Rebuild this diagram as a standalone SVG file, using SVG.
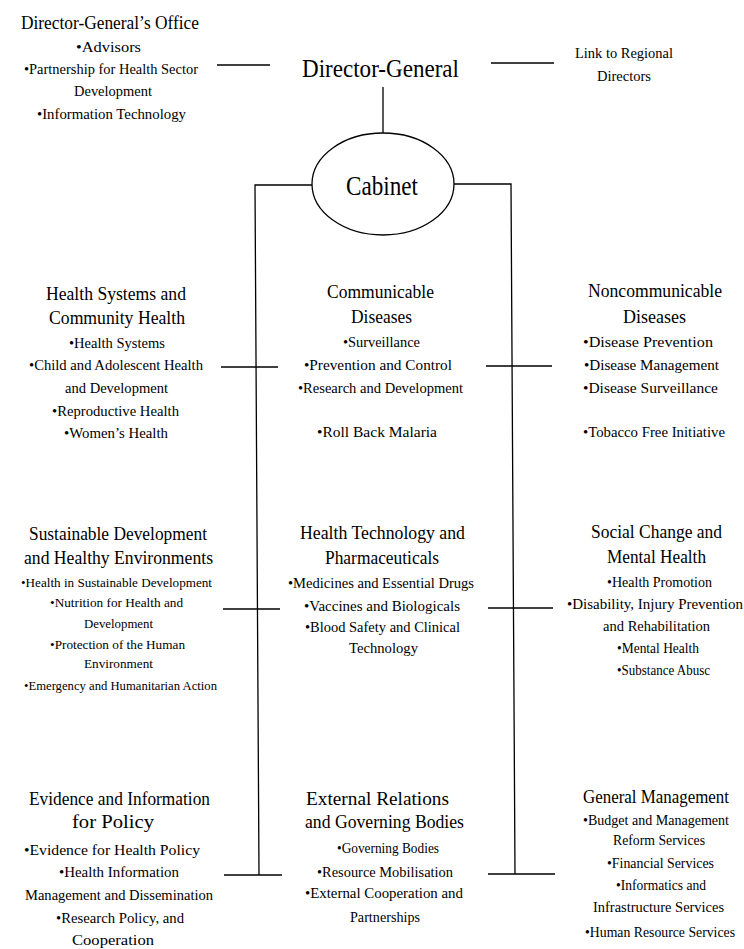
<svg xmlns="http://www.w3.org/2000/svg" width="744" height="949" viewBox="0 0 744 949">
<style>
text{font-family:"Liberation Serif","Times New Roman",serif;fill:#000;text-anchor:middle}
.h{font-size:18px}
.b{font-size:15px}
.n{font-size:14px}
.s{font-size:13px}
.big{font-size:25px}
.cab{font-size:27px}
.ln{stroke:#000;stroke-width:1.3;fill:none}
</style>
<rect width="744" height="949" fill="#fff"/>
<g id="connectors" class="ln">
<line x1="217" y1="65" x2="270" y2="65"/>
<line x1="491" y1="63" x2="554" y2="63"/>
<line x1="383" y1="87" x2="383" y2="133"/>
<path d="M312,185 H255 L259,875"/>
<path d="M454,184 H511 L515,874"/>
<line x1="221" y1="367" x2="278" y2="367"/>
<line x1="486" y1="366" x2="552" y2="366"/>
<line x1="223" y1="609" x2="280" y2="609"/>
<line x1="488" y1="608" x2="553" y2="608"/>
<line x1="224" y1="875" x2="282" y2="875"/>
<line x1="488" y1="874" x2="555" y2="874"/>
</g>
<g id="dg-office">
<text class="h" x="110" y="29" textLength="178" lengthAdjust="spacingAndGlyphs">Director-General’s Office</text>
<text class="b" x="108.5" y="52" textLength="65" lengthAdjust="spacingAndGlyphs">•Advisors</text>
<text class="b" x="111" y="74" textLength="174" lengthAdjust="spacingAndGlyphs">•Partnership for Health Sector</text>
<text class="b" x="113" y="96" textLength="78" lengthAdjust="spacingAndGlyphs">Development</text>
<text class="b" x="111.5" y="119" textLength="149" lengthAdjust="spacingAndGlyphs">•Information Technology</text>
</g>
<g id="director-general">
<text class="big" x="380.5" y="77" textLength="157" lengthAdjust="spacingAndGlyphs">Director-General</text>
</g>
<g id="regional-link">
<text class="b" x="624" y="58" textLength="98" lengthAdjust="spacingAndGlyphs">Link to Regional</text>
<text class="b" x="624" y="81" textLength="54" lengthAdjust="spacingAndGlyphs">Directors</text>
</g>
<g id="cabinet">
<ellipse class="ln" cx="383" cy="184" rx="71" ry="51"/>
<text class="cab" x="382" y="195" textLength="72" lengthAdjust="spacingAndGlyphs">Cabinet</text>
</g>
<g id="health-systems">
<text class="h" x="116" y="300" textLength="140" lengthAdjust="spacingAndGlyphs">Health Systems and</text>
<text class="h" x="117" y="324" textLength="136" lengthAdjust="spacingAndGlyphs">Community Health</text>
<text class="b" x="117" y="348" textLength="96" lengthAdjust="spacingAndGlyphs">•Health Systems</text>
<text class="b" x="116" y="370" textLength="174" lengthAdjust="spacingAndGlyphs">•Child and Adolescent Health</text>
<text class="b" x="116.5" y="393" textLength="103" lengthAdjust="spacingAndGlyphs">and Development</text>
<text class="b" x="115.5" y="416" textLength="127" lengthAdjust="spacingAndGlyphs">•Reproductive Health</text>
<text class="b" x="116" y="438" textLength="104" lengthAdjust="spacingAndGlyphs">•Women’s Health</text>
</g>
<g id="communicable">
<text class="h" x="380.5" y="298" textLength="107" lengthAdjust="spacingAndGlyphs">Communicable</text>
<text class="h" x="381.5" y="323" textLength="61" lengthAdjust="spacingAndGlyphs">Diseases</text>
<text class="b" x="381.5" y="347" textLength="77" lengthAdjust="spacingAndGlyphs">•Surveillance</text>
<text class="b" x="378" y="370" textLength="148" lengthAdjust="spacingAndGlyphs">•Prevention and Control</text>
<text class="b" x="380.5" y="393" textLength="165" lengthAdjust="spacingAndGlyphs">•Research and Development</text>
<text class="b" x="377" y="437" textLength="120" lengthAdjust="spacingAndGlyphs">•Roll Back Malaria</text>
</g>
<g id="noncommunicable">
<text class="h" x="655" y="297" textLength="134" lengthAdjust="spacingAndGlyphs">Noncommunicable</text>
<text class="h" x="654.5" y="323" textLength="63" lengthAdjust="spacingAndGlyphs">Diseases</text>
<text class="b" x="648" y="347" textLength="130" lengthAdjust="spacingAndGlyphs">•Disease Prevention</text>
<text class="b" x="651.5" y="370" textLength="135" lengthAdjust="spacingAndGlyphs">•Disease Management</text>
<text class="b" x="650.5" y="393" textLength="135" lengthAdjust="spacingAndGlyphs">•Disease Surveillance</text>
<text class="b" x="654" y="437" textLength="142" lengthAdjust="spacingAndGlyphs">•Tobacco Free Initiative</text>
</g>
<g id="sustainable-development">
<text class="h" x="118" y="540" textLength="178" lengthAdjust="spacingAndGlyphs">Sustainable Development</text>
<text class="h" x="118.5" y="564" textLength="189" lengthAdjust="spacingAndGlyphs">and Healthy Environments</text>
<text class="s" x="116.5" y="587" textLength="191" lengthAdjust="spacingAndGlyphs">•Health in Sustainable Development</text>
<text class="s" x="116.5" y="607" textLength="133" lengthAdjust="spacingAndGlyphs">•Nutrition for Health and</text>
<text class="s" x="118.5" y="628" textLength="69" lengthAdjust="spacingAndGlyphs">Development</text>
<text class="s" x="117.5" y="649" textLength="135" lengthAdjust="spacingAndGlyphs">•Protection of the Human</text>
<text class="s" x="118.5" y="668" textLength="69" lengthAdjust="spacingAndGlyphs">Environment</text>
<text class="s" x="120.5" y="690" textLength="193" lengthAdjust="spacingAndGlyphs">•Emergency and Humanitarian Action</text>
</g>
<g id="health-technology">
<text class="h" x="382.5" y="539" textLength="165" lengthAdjust="spacingAndGlyphs">Health Technology and</text>
<text class="h" x="382" y="564" textLength="114" lengthAdjust="spacingAndGlyphs">Pharmaceuticals</text>
<text class="b" x="381" y="588" textLength="186" lengthAdjust="spacingAndGlyphs">•Medicines and Essential Drugs</text>
<text class="b" x="382" y="611" textLength="156" lengthAdjust="spacingAndGlyphs">•Vaccines and Biologicals</text>
<text class="b" x="382.5" y="632" textLength="155" lengthAdjust="spacingAndGlyphs">•Blood Safety and Clinical</text>
<text class="b" x="383.5" y="653" textLength="69" lengthAdjust="spacingAndGlyphs">Technology</text>
</g>
<g id="social-change">
<text class="h" x="656.5" y="538" textLength="131" lengthAdjust="spacingAndGlyphs">Social Change and</text>
<text class="h" x="656.5" y="563" textLength="99" lengthAdjust="spacingAndGlyphs">Mental Health</text>
<text class="b" x="659.5" y="587" textLength="105" lengthAdjust="spacingAndGlyphs">•Health Promotion</text>
<text class="n" x="655" y="609" textLength="176" lengthAdjust="spacingAndGlyphs">•Disability, Injury Prevention</text>
<text class="b" x="656.5" y="631" textLength="107" lengthAdjust="spacingAndGlyphs">and Rehabilitation</text>
<text class="b" x="658" y="653" textLength="82" lengthAdjust="spacingAndGlyphs">•Mental Health</text>
<text class="b" x="663.5" y="675" textLength="93" lengthAdjust="spacingAndGlyphs">•Substance Abusc</text>
</g>
<g id="evidence">
<text class="h" x="119.5" y="805" textLength="181" lengthAdjust="spacingAndGlyphs">Evidence and Information</text>
<text class="h" x="113" y="828" textLength="82" lengthAdjust="spacingAndGlyphs">for Policy</text>
<text class="b" x="112" y="855" textLength="176" lengthAdjust="spacingAndGlyphs">•Evidence for Health Policy</text>
<text class="b" x="119" y="877" textLength="120" lengthAdjust="spacingAndGlyphs">•Health Information</text>
<text class="b" x="119" y="900" textLength="188" lengthAdjust="spacingAndGlyphs">Management and Dissemination</text>
<text class="b" x="120" y="923" textLength="128" lengthAdjust="spacingAndGlyphs">•Research Policy, and</text>
<text class="b" x="113" y="945" textLength="82" lengthAdjust="spacingAndGlyphs">Cooperation</text>
</g>
<g id="external-relations">
<text class="h" x="377.5" y="805" textLength="143" lengthAdjust="spacingAndGlyphs">External Relations</text>
<text class="h" x="384.5" y="828" textLength="159" lengthAdjust="spacingAndGlyphs">and Governing Bodies</text>
<text class="b" x="388" y="853" textLength="102" lengthAdjust="spacingAndGlyphs">•Governing Bodies</text>
<text class="b" x="385" y="877" textLength="136" lengthAdjust="spacingAndGlyphs">•Resource Mobilisation</text>
<text class="b" x="384" y="898" textLength="158" lengthAdjust="spacingAndGlyphs">•External Cooperation and</text>
<text class="b" x="385" y="922" textLength="70" lengthAdjust="spacingAndGlyphs">Partnerships</text>
</g>
<g id="general-management">
<text class="h" x="656" y="803" textLength="146" lengthAdjust="spacingAndGlyphs">General Management</text>
<text class="b" x="656" y="825" textLength="146" lengthAdjust="spacingAndGlyphs">•Budget and Management</text>
<text class="b" x="659" y="845" textLength="92" lengthAdjust="spacingAndGlyphs">Reform Services</text>
<text class="b" x="660.5" y="868" textLength="107" lengthAdjust="spacingAndGlyphs">•Financial Services</text>
<text class="b" x="661" y="890" textLength="90" lengthAdjust="spacingAndGlyphs">•Informatics and</text>
<text class="b" x="658.5" y="912" textLength="131" lengthAdjust="spacingAndGlyphs">Infrastructure Services</text>
<text class="n" x="660" y="937" textLength="150" lengthAdjust="spacingAndGlyphs">•Human Resource Services</text>
</g>
</svg>
